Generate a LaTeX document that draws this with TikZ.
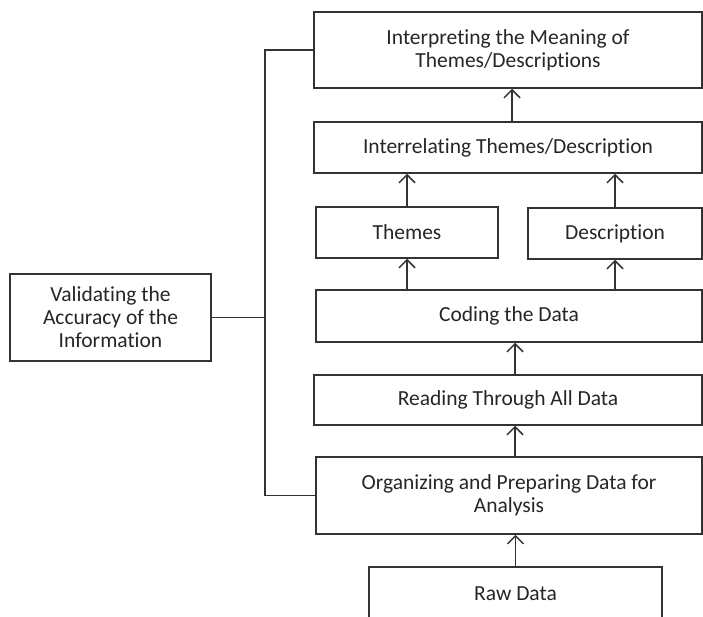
\documentclass[tikz,border=0pt]{standalone}
\usepackage{fontspec}
\setmainfont[Ligatures={NoCommon}]{Carlito}
\usetikzlibrary{arrows.meta}
\definecolor{ink}{HTML}{333333}
\definecolor{txt}{HTML}{262626}
\begin{document}
\begin{tikzpicture}[x=1pt,y=-1pt,
  box/.style={draw=ink, line width=1.5pt, rectangle, inner sep=0pt, align=center,
    text=txt, font=\fontsize{21.5}{23}\selectfont},
  arr/.style={draw=ink, line width=1.5pt, -{Straight Barb[length=8pt,width=16pt,line width=1.5pt]}},
  link/.style={draw=ink, line width=1.5pt}]
\useasboundingbox[fill=white] (0,0) rectangle (703,616);
\node[box, minimum width=388pt, minimum height=76pt] (interp) at (508,50) {Interpreting the Meaning of\\Themes/Descriptions};
\node[box, minimum width=388pt, minimum height=51pt] (interrel) at (508,147.5) {Interrelating Themes/Description};
\node[box, minimum width=182pt, minimum height=51pt] (themes) at (407,232.5) {Themes};
\node[box, minimum width=174pt, minimum height=51pt] (desc) at (615,233.5) {Description};
\node[box, minimum width=386pt, minimum height=52pt] (coding) at (509,316) {Coding the Data};
\node[box, minimum width=388pt, minimum height=50pt] (reading) at (508,400) {Reading Through All Data};
\node[box, minimum width=386pt, minimum height=77pt] (org) at (509,495.5) {Organizing and Preparing Data for\\Analysis};
\node[box, minimum width=293pt, minimum height=53pt] (raw) at (515.5,593.5) {Raw Data};
\node[box, minimum width=201pt, minimum height=87pt] (valid) at (110.5,317.5) {Validating the\\Accuracy of the\\Information};
\coordinate (col) at (515,0);
\coordinate (topcol) at (512,0);
\coordinate (br) at (265,317.5);
\draw[arr] (raw.north) -- (org.south -| raw.north);
\draw[arr] (org.north -| col) -- (reading.south -| col);
\draw[arr] (reading.north -| col) -- (coding.south -| col);
\draw[arr] (coding.north -| themes.south) -- (themes.south);
\draw[arr] (coding.north -| desc.south) -- (desc.south);
\draw[arr] (themes.north) -- (interrel.south -| themes.north);
\draw[arr] (desc.north) -- (interrel.south -| desc.north);
\draw[arr] (interrel.north -| topcol) -- (interp.south -| topcol);
\draw[link] (interp.west) -| (br) |- (org.west);
\draw[link] (valid.east) -- (br);
\end{tikzpicture}
\end{document}
